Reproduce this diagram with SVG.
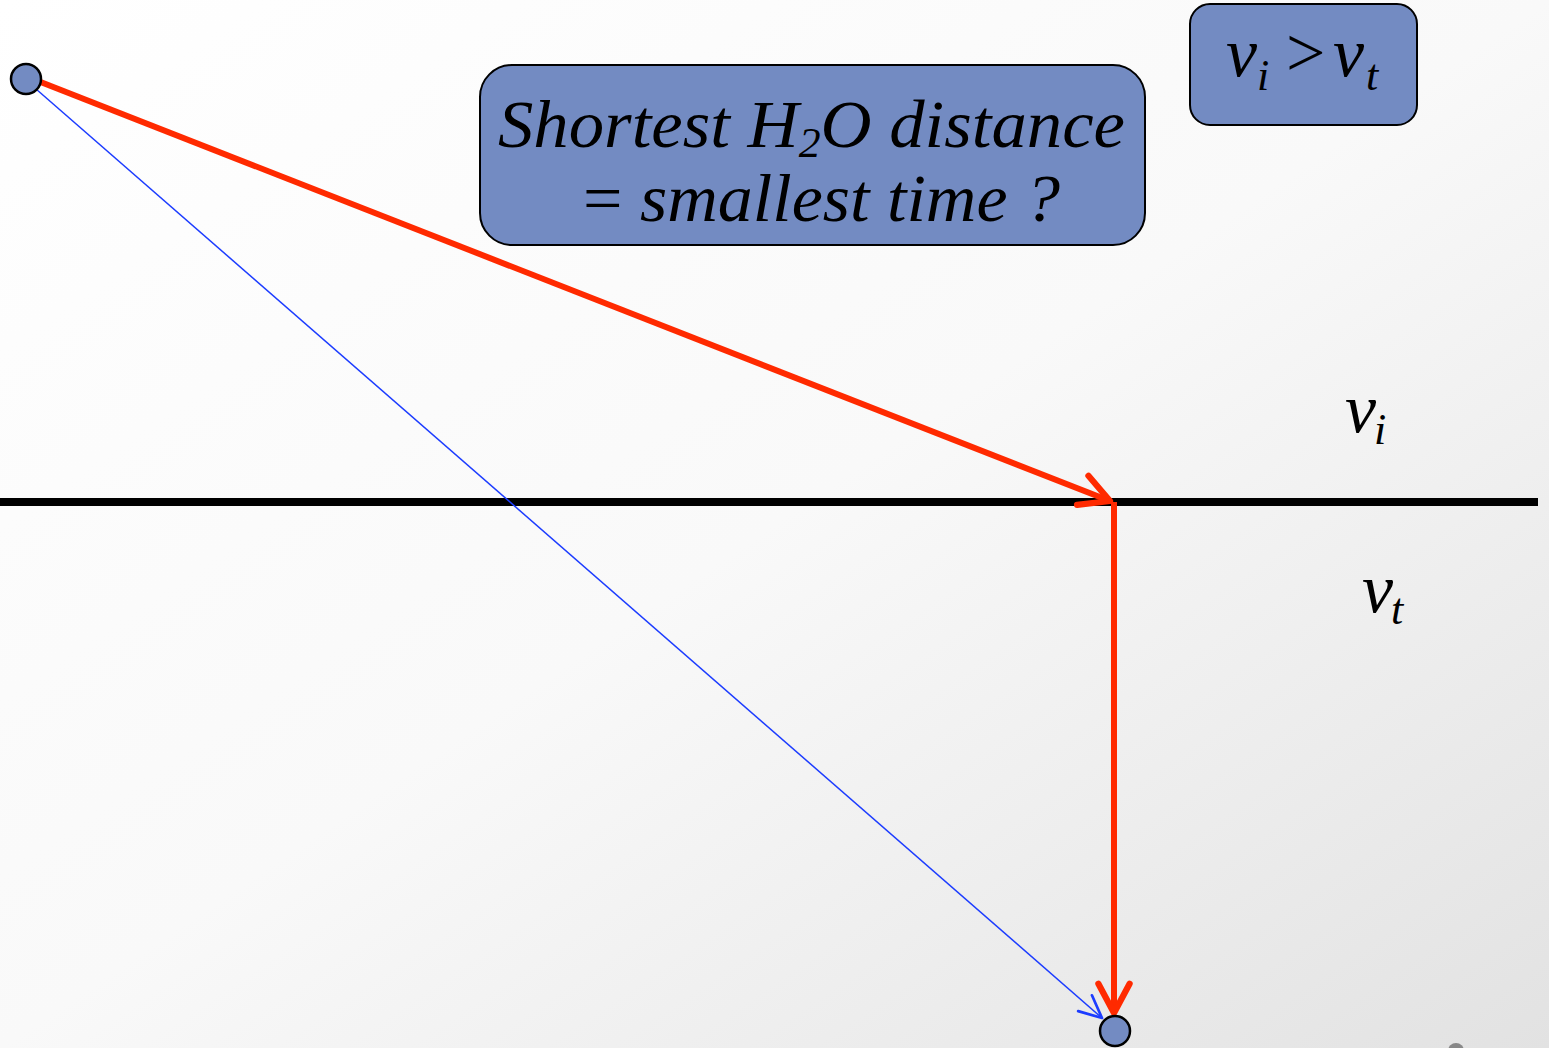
<svg xmlns="http://www.w3.org/2000/svg" width="1549" height="1048" viewBox="0 0 1549 1048">
<defs>
<linearGradient id="bg" x1="0" y1="0" x2="1" y2="1">
<stop offset="0" stop-color="#ffffff"/>
<stop offset="0.5" stop-color="#f9f9f9"/>
<stop offset="1" stop-color="#e2e2e2"/>
</linearGradient>
<marker id="redHead" viewBox="0 0 20 20" refX="18" refY="10" markerWidth="6.5" markerHeight="6.5" markerUnits="strokeWidth" orient="auto">
<path d="M3,2 L18,10 L3,18" fill="none" stroke="#ff2a00" stroke-width="3.2" stroke-linecap="round" stroke-linejoin="round"/>
</marker>
<marker id="blueHead" viewBox="0 0 20 20" refX="18" refY="10" markerWidth="20" markerHeight="20" markerUnits="strokeWidth" orient="auto">
<path d="M3,3 L18,10 L3,17" fill="none" stroke="#1c3cff" stroke-width="1.8" stroke-linecap="round" stroke-linejoin="round"/>
</marker>
</defs>
<style>
.box{fill:#738bc2;stroke:#000;stroke-width:2}
.pt{fill:#738bc2;stroke:#000;stroke-width:2.5}
.red{stroke:#ff2a00;stroke-width:6;fill:none}
.blue{stroke:#1c3cff;stroke-width:1.5;fill:none}
</style>
<rect width="1549" height="1048" fill="url(#bg)"/>
<g id="interface">
<line x1="0" y1="502" x2="1538" y2="502" stroke="#000" stroke-width="8"/>
</g>
<g id="connectors">
<line class="blue" x1="36" y1="89" x2="1102" y2="1018" marker-end="url(#blueHead)"/>
<line class="red" x1="38" y1="81" x2="1110" y2="501" marker-end="url(#redHead)"/>
<line class="red" x1="1114" y1="502" x2="1114" y2="1013" marker-end="url(#redHead)"/>
</g>
<g id="start">
<circle class="pt" cx="26" cy="79" r="15"/>
</g>
<g id="end">
<circle class="pt" cx="1115" cy="1031" r="15"/>
</g>
<g id="question">
<rect class="box" x="480" y="65" width="665" height="180" rx="32"/>
<text x="498" y="147" font-size="68" font-family="Liberation Serif" font-style="italic" fill="#000" textLength="627" lengthAdjust="spacingAndGlyphs">Shortest H<tspan font-size="42" dy="10">2</tspan><tspan dy="-10">O distance</tspan></text>
<text x="583" y="221" font-size="68" font-family="Liberation Serif" font-style="italic" fill="#000" textLength="477" lengthAdjust="spacingAndGlyphs"><tspan font-style="normal">=</tspan> smallest time ?</text>
</g>
<g id="condition">
<rect class="box" x="1190" y="4" width="227" height="121" rx="20"/>
<text y="76" font-size="70" font-family="Liberation Serif" font-style="italic" fill="#000"><tspan x="1226">v</tspan><tspan x="1257" font-size="44" dy="14">i</tspan><tspan x="1286" font-style="normal" dy="-14">&gt;</tspan><tspan x="1333">v</tspan><tspan x="1366" font-size="44" dy="14">t</tspan></text>
</g>
<g id="label-vi">
<text y="432" font-size="70" font-family="Liberation Serif" font-style="italic" fill="#000"><tspan x="1345">v</tspan><tspan x="1374" font-size="44" dy="12">i</tspan></text>
</g>
<g id="label-vt">
<text y="612" font-size="70" font-family="Liberation Serif" font-style="italic" fill="#000"><tspan x="1362">v</tspan><tspan x="1391" font-size="44" dy="12">t</tspan></text>
</g>
<circle cx="1456" cy="1051" r="8" fill="#888"/>
</svg>
